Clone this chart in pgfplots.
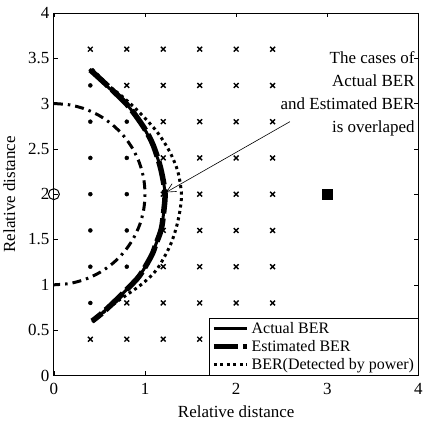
\documentclass[border=0pt]{standalone}
\usepackage{pgfplots}
\pgfplotsset{compat=1.18}
\usepackage{fontspec}
\setmainfont{Liberation Serif}
\usetikzlibrary{arrows.meta}
\begin{document}
\begin{tikzpicture}
\begin{axis}[
  scale only axis,
  width=365pt, height=363pt,
  xmin=0, xmax=4, ymin=0, ymax=4,
  xtick={0,1,2,3,4},
  ytick={0,0.5,1,1.5,2,2.5,3,3.5,4},
  tick align=inside,
  major tick length=4pt,
  axis line style={line width=0.8pt},
  every tick/.style={line width=0.6pt, black},
  /pgf/number format/assume math mode=true,
  tick label style={font=\fontsize{17}{20}\selectfont},
  xticklabel style={yshift=-4pt},
  yticklabel style={xshift=-1pt},
  label style={font=\fontsize{17}{20}\selectfont},
  xlabel={Relative distance},
  ylabel={Relative distance},
  xlabel style={yshift=-4pt},
  ylabel style={yshift=6pt},
  clip=false,
  legend style={at={(1,0)}, anchor=south east, font=\fontsize{16}{18}\selectfont,
    draw=black, line width=0.8pt, fill=white, inner sep=2pt, row sep=1.5pt,
    legend cell align=left},
  legend image code/.code={\draw[#1] (0pt,0pt) -- (33pt,0pt);},
]
% grid: inside points (dots)
\addplot[only marks, mark=*, mark size=2pt, black, forget plot] coordinates {
 (0.4,3.2) (0.4,2.8) (0.8,2.8) (0.4,2.4) (0.8,2.4) (0.4,2.0) (0.8,2.0)
 (0.4,1.6) (0.8,1.6) (0.4,1.2) (0.8,1.2) (0.4,0.8)
};
% grid: outside points (crosses)
\addplot[only marks, mark=x, mark size=3.4pt, black, line width=1.4pt, forget plot] coordinates {
 (0.4,3.6) (0.8,3.6) (1.2,3.6) (1.6,3.6) (2.0,3.6) (2.4,3.6)
 (0.8,3.2) (1.2,3.2) (1.6,3.2) (2.0,3.2) (2.4,3.2)
 (1.2,2.8) (1.6,2.8) (2.0,2.8) (2.4,2.8)
 (1.2,2.4) (1.6,2.4) (2.0,2.4) (2.4,2.4)
 (1.2,2.0) (1.6,2.0) (2.0,2.0) (2.4,2.0)
 (1.2,1.6) (1.6,1.6) (2.0,1.6) (2.4,1.6)
 (1.2,1.2) (1.6,1.2) (2.0,1.2) (2.4,1.2)
 (0.8,0.8) (1.2,0.8) (1.6,0.8) (2.0,0.8) (2.4,0.8)
 (0.4,0.4) (0.8,0.4) (1.2,0.4) (1.6,0.4) (2.0,0.4) (2.4,0.4)
};
% transmitter / receiver
\addplot[only marks, mark=o, mark size=5.5pt, black, line width=1pt, forget plot] coordinates {(0,2)};
\addplot[only marks, mark=square*, mark size=5pt, black, forget plot] coordinates {(3,2)};
% dash-dot circle
\addplot[black, line width=3pt, smooth, dash pattern=on 9pt off 5pt on 2.5pt off 5pt, forget plot] coordinates {
 (0,3) (0.174,2.985) (0.342,2.940) (0.5,2.866) (0.643,2.766) (0.766,2.643)
 (0.866,2.5) (0.940,2.342) (0.985,2.174) (1,2) (0.985,1.826) (0.940,1.658)
 (0.866,1.5) (0.766,1.357) (0.643,1.234) (0.5,1.134) (0.342,1.060)
 (0.174,1.015) (0,1)
};
% Actual BER
\addplot[black, line width=3pt, smooth] coordinates {
 (0.39,3.38) (0.50,3.27) (0.65,3.13) (0.80,2.99) (0.90,2.86) (1.00,2.71)
 (1.08,2.55) (1.16,2.33) (1.20,2.15) (1.22,2.00) (1.21,1.85) (1.18,1.62)
 (1.12,1.45) (1.07,1.32) (0.94,1.10) (0.80,0.95) (0.65,0.80) (0.52,0.68) (0.42,0.59)
};
\addlegendentry{Actual BER}
% Estimated BER
\addplot[black, line width=5.5pt, smooth, dash pattern=on 24pt off 5pt] coordinates {
 (0.40,3.37) (0.51,3.27) (0.66,3.13) (0.81,2.98) (0.91,2.85) (1.01,2.70)
 (1.09,2.54) (1.16,2.33) (1.20,2.15) (1.22,2.00) (1.21,1.85) (1.18,1.62)
 (1.12,1.45) (1.07,1.32) (0.94,1.10) (0.80,0.95) (0.65,0.80) (0.52,0.68) (0.42,0.60)
};
\addlegendentry{Estimated BER}
% BER (detected by power)
\addplot[black, line width=3pt, smooth, dash pattern=on 3pt off 3.5pt] coordinates {
 (0.42,3.38) (0.60,3.20) (0.76,3.07) (0.94,2.90) (1.13,2.69) (1.27,2.47)
 (1.36,2.25) (1.40,2.00) (1.38,1.80) (1.34,1.62) (1.27,1.42) (1.13,1.17)
 (0.98,1.02) (0.83,0.91) (0.70,0.82) (0.55,0.70) (0.44,0.61)
};
\addlegendentry{BER(Detected by power)}
% annotation
\node[anchor=north east, align=right, inner sep=0pt, font=\fontsize{17}{23}\selectfont]
  at (axis cs:3.96,3.58) {The cases of\\Actual BER\\and Estimated BER\\is overlaped};
\draw[-{Straight Barb[length=9pt,width=9pt]}, line width=0.6pt] (axis cs:2.59,2.80) -- (axis cs:1.23,2.02);
\end{axis}
\path ([yshift=4pt]current bounding box.north);
\end{tikzpicture}
\end{document}
